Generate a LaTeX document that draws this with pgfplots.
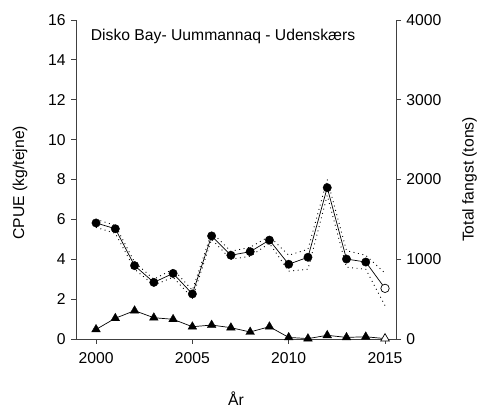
\documentclass[border=0pt]{standalone}
\usepackage{fontspec}
\setmainfont{Liberation Sans}
\usepackage{pgfplots}
\pgfplotsset{compat=1.18}
\begin{document}
\fontsize{15.7}{18}\selectfont
\begin{tikzpicture}
\pgfplotsset{every axis/.append style={
  scale only axis, width=320pt, height=319pt,
  xmin=1998.96, xmax=2015.57,
  font=\fontsize{15.7}{18}\selectfont,
  /pgf/number format/assume math mode=true,
  /pgf/number format/set thousands separator={},
  tick align=outside, major tick length=5pt,
  axis line style={-, black!75, line width=0.9pt},
  tick style={black!75, line width=0.8pt},
}}
\begin{axis}[
  axis y line*=left, axis x line*=bottom,
  ymin=0, ymax=16, ytick={0,2,...,16},
  xtick={2000,2005,2010,2015},
  ylabel={CPUE (kg/tejne)},
  ylabel style={at={(axis description cs:-0.175,0.49)}, anchor=center},
  xlabel={År},
  xlabel style={at={(axis description cs:0.5,-0.186)}, anchor=center, inner sep=1pt},
  xticklabel style={yshift=-3pt},
]
\addplot[black, line width=0.9pt, dash pattern=on 0.9pt off 3.6pt] coordinates {
(2000,6.0)(2001,5.7)(2002,3.85)(2003,3.0)(2004,3.5)(2005,2.45)(2006,5.35)(2007,4.4)
(2008,4.6)(2009,5.15)(2010,4.2)(2011,4.5)(2012,8.0)(2013,4.43)(2014,4.2)(2015,3.3)};
\addplot[black, line width=0.9pt, dash pattern=on 0.9pt off 3.6pt] coordinates {
(2000,5.6)(2001,5.3)(2002,3.5)(2003,2.7)(2004,3.1)(2005,2.05)(2006,5.0)(2007,4.0)
(2008,4.15)(2009,4.8)(2010,3.4)(2011,3.5)(2012,7.2)(2013,3.6)(2014,3.5)(2015,1.67)};
\addplot[black, line width=0.7pt, mark=none] coordinates {
(2000,5.82)(2001,5.53)(2002,3.68)(2003,2.84)(2004,3.29)(2005,2.26)(2006,5.17)(2007,4.2)
(2008,4.38)(2009,4.96)(2010,3.75)(2011,4.1)(2012,7.59)(2013,4.01)(2014,3.86)(2015,2.54)};
\addplot[only marks, mark=*, mark size=4.2pt, mark options={fill=black, draw=black}] coordinates {
(2000,5.82)(2001,5.53)(2002,3.68)(2003,2.84)(2004,3.29)(2005,2.26)(2006,5.17)(2007,4.2)
(2008,4.38)(2009,4.96)(2010,3.75)(2011,4.1)(2012,7.59)(2013,4.01)(2014,3.86)};
\addplot[only marks, mark=*, mark size=4.2pt, mark options={fill=white, draw=black, line width=0.7pt}] coordinates {(2015,2.54)};
\node[anchor=west] at (axis cs:1999.45,15.15) {Disko Bay- Uummannaq - Udenskærs};
\end{axis}
\begin{axis}[
  axis y line*=right, axis x line=none,
  ymin=0, ymax=4000, ytick={0,1000,...,4000},
  ylabel={Total fangst (tons)},
  ylabel style={at={(axis description cs:1.23,0.5)}, anchor=center},
]
\addplot[black, line width=0.7pt, mark=none] coordinates {
(2000,120)(2001,260)(2002,355)(2003,267)(2004,247)(2005,154)(2006,175)(2007,142)
(2008,88)(2009,154)(2010,20)(2011,5)(2012,46)(2013,20)(2014,28)(2015,5)};
\addplot[only marks, mark=triangle*, mark size=5pt, mark options={fill=black, draw=black}] coordinates {
(2000,120)(2001,260)(2002,355)(2003,267)(2004,247)(2005,154)(2006,175)(2007,142)
(2008,88)(2009,154)(2010,20)(2011,5)(2012,46)(2013,20)(2014,28)};
\addplot[only marks, mark=triangle*, mark size=5pt, mark options={fill=white, draw=black, line width=0.7pt}] coordinates {(2015,5)};
\end{axis}
\pgfresetboundingbox
\path (current axis.south west) ++(-76pt,-69pt) rectangle ([shift={(82pt,20pt)}]current axis.north east);
\end{tikzpicture}
\end{document}
